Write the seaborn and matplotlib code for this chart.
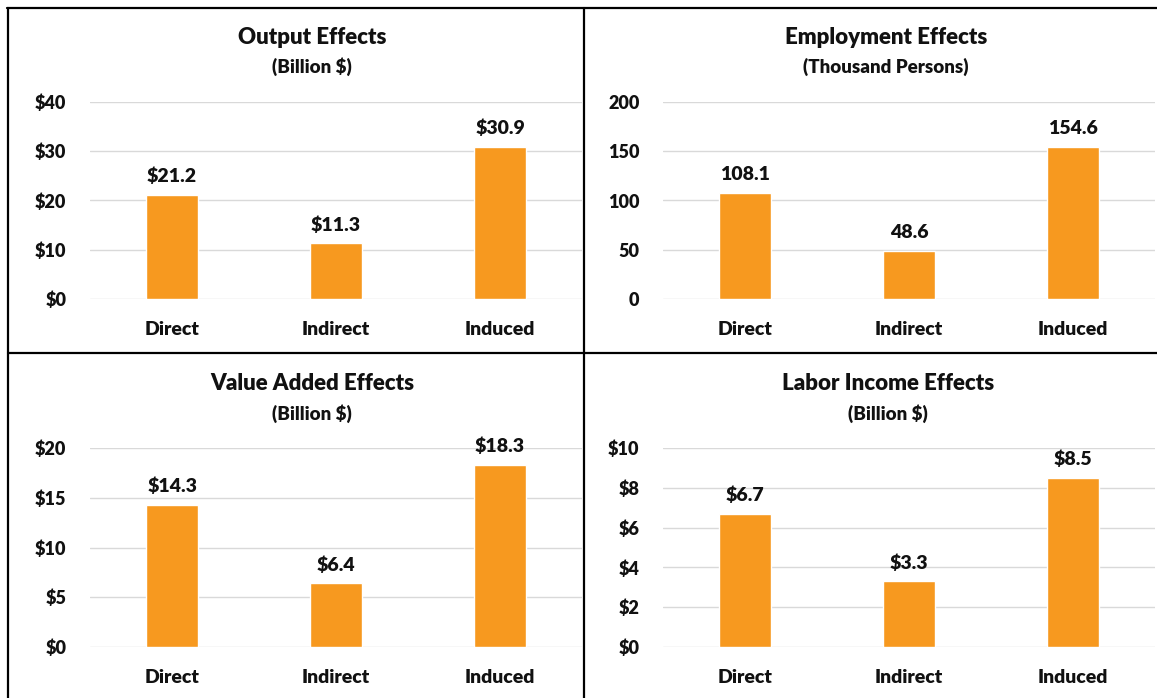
import matplotlib
matplotlib.use("Agg")
import matplotlib.pyplot as plt
from matplotlib.lines import Line2D
import seaborn as sns
import pandas as pd

# Economic impact results by effect type
categories = ["Direct", "Indirect", "Induced"]
output_vals = [21.2, 11.3, 30.9]
employment_vals = [108.1, 48.6, 154.6]
value_added_vals = [14.3, 6.4, 18.3]
labor_income_vals = [6.7, 3.3, 8.5]

output_ticks = [0, 10, 20, 30, 40]
employment_ticks = [0, 50, 100, 150, 200]
value_added_ticks = [0, 5, 10, 15, 20]
labor_income_ticks = [0, 2, 4, 6, 8, 10]

sns.set_theme(style="white")
plt.rcParams["font.family"] = ["Lato", "DejaVu Sans"]

W, H = 1157, 698
fig = plt.figure(figsize=(W / 100, H / 100), dpi=100)
BAR_COLOR = "#F7991F"
GRID_COLOR = "#D9D9D9"
WEIGHT = "heavy"
LABEL_SIZE = 14
TEXT_COLOR = "#111111"


def px_axes(x0, y0, x1, y1):
    return fig.add_axes([x0 / W, 1 - y1 / H, (x1 - x0) / W, (y1 - y0) / H])


def panel(box, values, ticks, dollar, title, subtitle, title_x, title_y):
    ax = px_axes(*box)
    df = pd.DataFrame({"category": categories, "value": values})
    sns.barplot(data=df, x="category", y="value", color=BAR_COLOR,
                saturation=1, width=0.32, ax=ax)
    ax.set_ylim(ticks[0], ticks[-1])
    ax.set_xlim(-0.5, 2.5)
    ax.set_yticks(ticks)
    fmt = (lambda v: f"${v:g}") if dollar else (lambda v: f"{v:g}")
    ax.set_yticklabels([fmt(t) for t in ticks], fontsize=13,
                       fontweight=WEIGHT, color=TEXT_COLOR)
    ax.set_xticks(range(len(categories)))
    ax.set_xticklabels(categories, fontsize=LABEL_SIZE, fontweight=WEIGHT,
                       color=TEXT_COLOR)
    ax.tick_params(axis="y", length=0, pad=17)
    ax.tick_params(axis="x", length=0, pad=16)
    ax.set_xlabel("")
    ax.set_ylabel("")
    ax.grid(axis="y", color=GRID_COLOR, linewidth=1)
    ax.set_axisbelow(True)
    for s in ["top", "right", "left", "bottom"]:
        ax.spines[s].set_visible(False)
    for container in ax.containers:
        labels = [("$" if dollar else "") + f"{v:.1f}" for v in container.datavalues]
        ax.bar_label(container, labels=labels, padding=7, color=TEXT_COLOR,
                     fontsize=LABEL_SIZE, fontweight=WEIGHT)
    fig.text(title_x / W, 1 - title_y / H, title, ha="center", va="center",
             fontsize=16, fontweight=WEIGHT, color=TEXT_COLOR)
    fig.text(title_x / W, 1 - (title_y + 30) / H, subtitle, ha="center",
             va="center", fontsize=13.5, fontweight=WEIGHT, color=TEXT_COLOR)
    return ax


panel((90, 102, 582, 299), output_vals, output_ticks, True,
      "Output Effects", "(Billion $)", 312, 37)
panel((663, 102, 1155, 299), employment_vals, employment_ticks, False,
      "Employment Effects", "(Thousand Persons)", 886, 37)
panel((90, 448, 582, 647), value_added_vals, value_added_ticks, True,
      "Value Added Effects", "(Billion $)", 312, 384)
panel((663, 448, 1155, 647), labor_income_vals, labor_income_ticks, True,
      "Labor Income Effects", "(Billion $)", 888, 384)

# Panel frame lines
def frame_line(x0, y0, x1, y1):
    fig.add_artist(Line2D([x0 / W, x1 / W], [1 - y0 / H, 1 - y1 / H],
                          color="black", linewidth=1.6,
                          transform=fig.transFigure))

frame_line(7, 8, W, 8)
frame_line(8, 8, 8, H)
frame_line(584, 8, 584, H)
frame_line(8, 353, W, 353)

fig.savefig("out.png", dpi=100, facecolor="white")
